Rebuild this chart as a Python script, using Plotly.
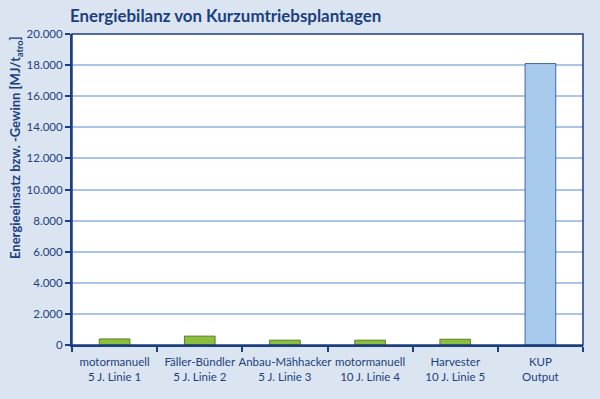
import plotly.graph_objects as go

categories = ["motormanuell<br>5 J. Linie 1", "Fäller-Bündler<br>5 J. Linie 2", "Anbau-Mähhacker<br>5 J. Linie 3",
              "motormanuell<br>10 J. Linie 4", "Harvester<br>10 J. Linie 5", "KUP<br>Output"]
values = [390, 570, 310, 310, 370, 18100]
fill_colors = ["#8cc03c"] * 5 + ["#a6c9ec"]
line_colors = ["#5a7f2a"] * 5 + ["#3f68a8"]
y_ticks = [0, 2000, 4000, 6000, 8000, 10000, 12000, 14000, 16000, 18000, 20000]
y_tick_labels = ["0", "2.000", "4.000", "6.000", "8.000", "10.000", "12.000", "14.000", "16.000", "18.000", "20.000"]

navy = "#1c3f7e"
bg = "#dbe5f2"
W, H = 600, 399
L, R, T, B = 72, 17, 34, 54
pw, ph = W - L - R, H - T - B
FONT = "Lato"

fig = go.Figure(go.Bar(
    x=categories, y=values, width=0.36,
    marker=dict(color=fill_colors, line=dict(color=line_colors, width=1)),
))

fig.update_layout(
    width=W, height=H,
    paper_bgcolor=bg, plot_bgcolor="white",
    margin=dict(l=L, r=R, t=T, b=B),
    showlegend=False,
    font=dict(family=FONT, color=navy, size=11),
    title=dict(text="<b>Energiebilanz von Kurzumtriebsplantagen</b>", x=70/W, xanchor="left",
               y=1 - 16/H, yanchor="middle", font=dict(size=16.9, color=navy)),
)
fig.update_xaxes(
    automargin=False, tickangle=0, ticklabelstandoff=5,
    showline=True, linecolor=navy, linewidth=2, mirror=False,
    ticks="outside", tickson="boundaries", ticklen=5, tickcolor=navy, tickwidth=2,
    tickfont=dict(size=11.5, color=navy), showgrid=False,
)
fig.update_yaxes(
    automargin=False,
    range=[0, 20000], tickvals=y_ticks, ticktext=y_tick_labels,
    showline=True, linecolor=navy, linewidth=2,
    ticks="outside", ticklen=5, tickcolor=navy, tickwidth=2,
    tickfont=dict(size=11.5, color=navy),
    gridcolor="#a9c6e8", gridwidth=1.5, zeroline=False,
)
fig.add_annotation(
    text="<b>Energieeinsatz bzw. -Gewinn [MJ/t<sub>atro</sub>]</b>",
    xref="paper", yref="paper", x=(16 - L) / pw, y=(H - B - 148) / ph,
    xanchor="center", yanchor="middle", textangle=-90, showarrow=False,
    font=dict(size=13, color=navy),
)
fig.add_shape(type="rect", xref="paper", yref="paper", x0=0, y0=0, x1=1, y1=1,
              line=dict(color=navy, width=1.5), layer="above")

fig.write_html("out.html", config={"displayModeBar": False},
               post_script="document.body.style.margin='0';")
